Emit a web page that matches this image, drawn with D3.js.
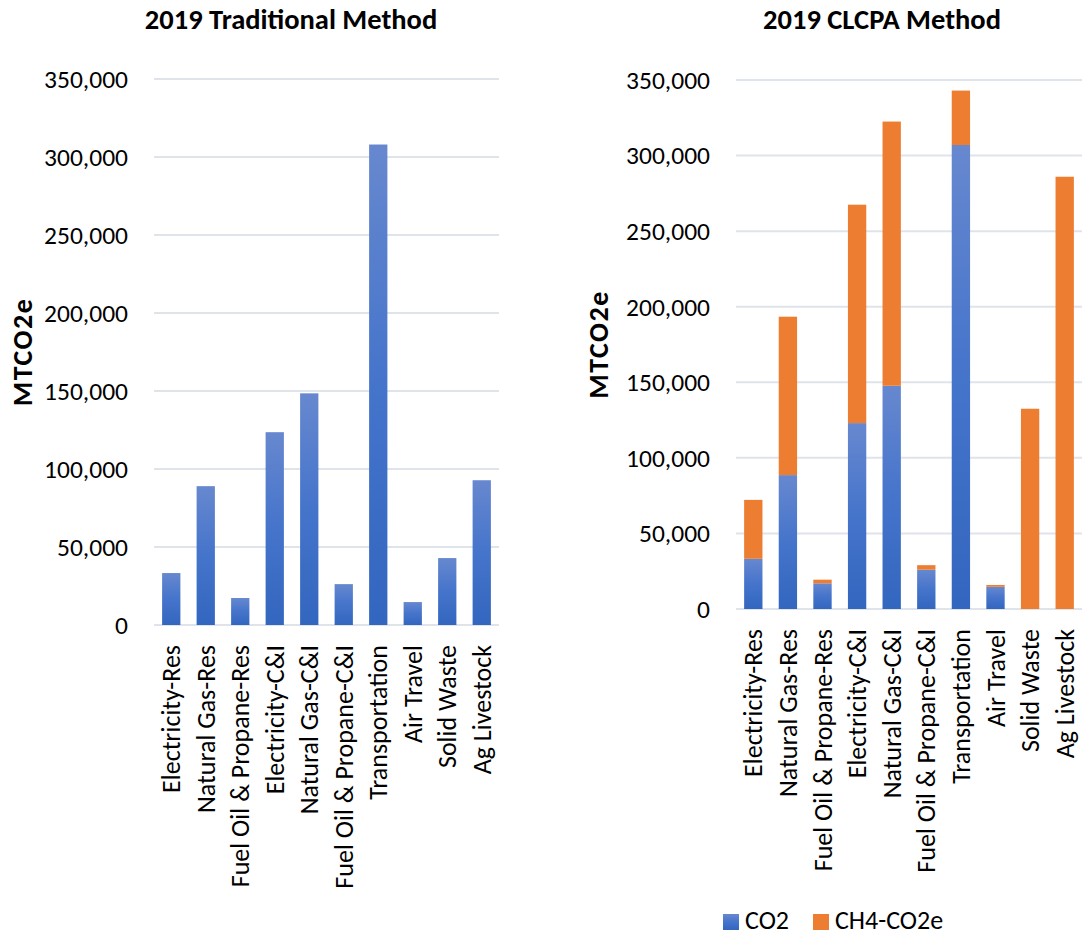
<!DOCTYPE html>
<html>
<head>
<meta charset="utf-8">
<script src="https://cdn.jsdelivr.net/npm/d3@7"></script>
<style>
  body { margin: 0; background: #fff; }
  svg text { font-family: Calibri, Carlito, Lato, sans-serif; fill: #000; }
</style>
</head>
<body>
<svg id="chart" width="1082" height="936"></svg>
<script>

// values (MTCO2e)
var categories = ['Electricity-Res', 'Natural Gas-Res', 'Fuel Oil & Propane-Res', 'Electricity-C&I',
  'Natural Gas-C&I', 'Fuel Oil & Propane-C&I', 'Transportation', 'Air Travel', 'Solid Waste', 'Ag Livestock'];
var traditional = [33300, 89000, 17300, 123600, 148500, 26200, 308000, 14700, 42900, 92800];
var clcpaCO2 = [33200, 88600, 17000, 123000, 147700, 26000, 307000, 14700, 0, 0];
var clcpaCH4 = [39000, 104800, 2400, 144500, 174800, 3000, 36000, 1200, 132500, 286000];
var yTicks = [0, 50000, 100000, 150000, 200000, 250000, 300000, 350000];
var seriesNames = ['CO2', 'CH4-CO2e'];

var orange = '#ed7d31';
var gridColor = '#dfe3ea';
var fmt = d3.format(',');

var svg = d3.select('#chart');

// Excel style vertical gradient for the blue bars
var grad = svg.append('defs').append('linearGradient')
  .attr('id', 'blueGrad')
  .attr('x1', 0).attr('y1', 0).attr('x2', 0).attr('y2', 1);
grad.append('stop').attr('offset', '0%').attr('stop-color', '#6788cf');
grad.append('stop').attr('offset', '50%').attr('stop-color', '#4574cb');
grad.append('stop').attr('offset', '100%').attr('stop-color', '#3366bf');

function drawChart(opt) {
  var g = svg.append('g');

  var x = d3.scaleBand()
    .domain(categories)
    .range([opt.left, opt.right])
    .paddingInner(0.47)
    .paddingOuter(0.235);

  var y = d3.scaleLinear()
    .domain([0, 350000])
    .range([opt.bottom, opt.top]);

  g.append('text')
    .attr('x', opt.titleX)
    .attr('y', 29)
    .attr('text-anchor', 'middle')
    .style('font-size', '28.5px')
    .style('font-weight', 'bold')
    .text(opt.title);

  // gridlines
  g.selectAll('.grid').data(yTicks).enter().append('line')
    .attr('class', 'grid')
    .attr('x1', opt.left).attr('x2', opt.right)
    .attr('y1', function(d) { return y(d); })
    .attr('y2', function(d) { return y(d); })
    .attr('stroke', gridColor)
    .attr('stroke-width', 2);

  g.selectAll('.ytick').data(yTicks).enter().append('text')
    .attr('class', 'ytick')
    .attr('x', opt.left - 26)
    .attr('y', function(d) { return y(d); })
    .attr('dy', '0.35em')
    .attr('text-anchor', 'end')
    .style('font-size', '25.5px')
    .text(function(d) { return fmt(d); });

  g.append('text')
    .attr('transform', 'translate(' + opt.yTitleX + ',' + ((opt.top + opt.bottom) / 2) + ') rotate(-90)')
    .attr('text-anchor', 'middle')
    .attr('dy', '0.35em')
    .style('font-size', '28px')
    .style('font-weight', 'bold')
    .style('letter-spacing', '1.5px')
    .text('MTCO2e');

  // bars
  opt.series.forEach(function(s) {
    g.selectAll('.bar-' + s.key).data(categories).enter().append('rect')
      .attr('x', function(d) { return x(d); })
      .attr('width', x.bandwidth())
      .attr('y', function(d, i) { return y(s.base[i] + s.values[i]); })
      .attr('height', function(d, i) { return y(s.base[i]) - y(s.base[i] + s.values[i]); })
      .attr('fill', s.fill);
  });

  // category labels
  g.selectAll('.xlabel').data(categories).enter().append('text')
    .attr('transform', function(d) {
      return 'translate(' + (x(d) + x.bandwidth() / 2) + ',' + (opt.bottom + 20) + ') rotate(-90)';
    })
    .attr('text-anchor', 'end')
    .attr('dy', '0.35em')
    .style('font-size', '26px')
    .text(function(d) { return d; });
}

var zeros = categories.map(function() { return 0; });

drawChart({
  title: '2019 Traditional Method', titleX: 291,
  left: 154, right: 499, top: 79, bottom: 625, yTitleX: 22,
  series: [{ key: 'trad', values: traditional, base: zeros, fill: 'url(#blueGrad)' }]
});

drawChart({
  title: '2019 CLCPA Method', titleX: 882,
  left: 736, right: 1082, top: 80, bottom: 609, yTitleX: 598,
  series: [
    { key: 'co2', values: clcpaCO2, base: zeros, fill: 'url(#blueGrad)' },
    { key: 'ch4', values: clcpaCH4, base: clcpaCO2, fill: orange }
  ]
});

// legend
var legend = svg.append('g').attr('transform', 'translate(723,914)');
var items = legend.selectAll('g').data(seriesNames).enter().append('g')
  .attr('transform', function(d, i) { return 'translate(' + (i * 90) + ',0)'; });
items.append('rect')
  .attr('width', 16).attr('height', 16)
  .attr('fill', function(d, i) { return i === 0 ? 'url(#blueGrad)' : orange; });
items.append('text')
  .attr('x', 22).attr('y', 15)
  .style('font-size', '26px')
  .text(function(d) { return d; });

</script>
</body>
</html>
